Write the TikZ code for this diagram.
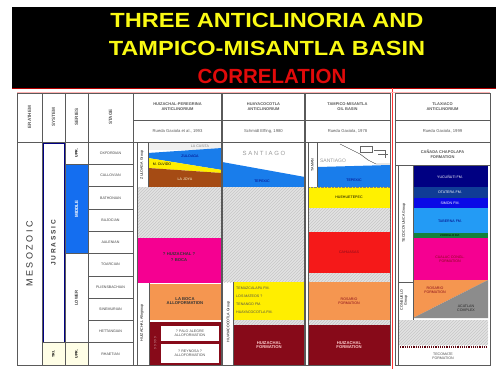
\documentclass[tikz,border=0pt]{standalone}
\usepackage{fontspec}
\setmainfont{Liberation Sans}
\usetikzlibrary{patterns}
\definecolor{lyrblue}{RGB}{25,125,235}
\definecolor{lyryel}{RGB}{255,238,0}
\definecolor{lyrbrown}{RGB}{165,75,20}
\definecolor{lyrmag}{RGB}{245,0,145}
\definecolor{lyrorange}{RGB}{245,150,80}
\definecolor{lyrred}{RGB}{245,25,25}
\definecolor{lyrdark}{RGB}{135,10,25}
\definecolor{navyone}{RGB}{0,0,130}
\definecolor{otat}{RGB}{15,60,150}
\definecolor{simon}{RGB}{10,10,230}
\definecolor{tabern}{RGB}{35,155,245}
\definecolor{zorr}{RGB}{20,130,60}
\definecolor{serblue}{RGB}{20,110,240}
\definecolor{ttlyel}{RGB}{250,250,20}
\definecolor{ttlred}{RGB}{225,10,10}
\definecolor{grid}{RGB}{90,90,90}
\definecolor{trigrey}{RGB}{140,140,140}
\begin{document}
\begin{tikzpicture}[x=1pt,y=-1pt,
  ttl/.style={font=\fontsize{20.5}{22}\selectfont\bfseries, inner sep=0},
  tiny/.style={font=\fontsize{3.6}{4.2}\selectfont, align=center, inner sep=0},
  small/.style={font=\fontsize{4.2}{4.8}\selectfont\bfseries, align=center, inner sep=0},
  hdr/.style={font=\fontsize{4.6}{5.2}\selectfont\bfseries, rotate=90, inner sep=0, text=grid},
  vlab/.style={font=\fontsize{3.6}{4}\selectfont, rotate=90, inner sep=0, align=center},
  hatch/.style={fill=gray!22, postaction={pattern=north east lines, pattern color=gray!45}},
  gridline/.style={draw=grid, line width=0.6pt},
  thick grid/.style={draw=grid, line width=1.1pt}]
\useasboundingbox (0,0) rectangle (496,369);
\fill[white] (0,0) rectangle (496,369);
% title band
\fill[black] (12,7) rectangle (496,88);
\node[ttl, text=ttlyel] (t1) at (267,20) {\scalebox{1.15}[1]{THREE ANTICLINORIA AND}};
\node[ttl, text=ttlyel] (t2) at (267,48) {\scalebox{1.15}[1]{TAMPICO-MISANTLA BASIN}};
\node[ttl, text=ttlred] (t3) at (272,76) {CORRELATION};
\draw[red!70!black, line width=1pt] (12,89) -- (496,89);
% table frame
\draw[gridline] (17,93) rectangle (390,365);
\draw[gridline] (395,93) rectangle (490,365);
% ---------- locality fills ----------
% Huizachal-Peregrina
\fill[gray!12] (148,143) rectangle (222,150);
\node[tiny, text=gray] (hpc) at (200,146.5) {LA CASITA};
\fill[lyrblue] (148,153) -- (222,148) -- (222,170) -- (148,158) -- cycle;
\fill[lyryel] (148,158) -- (222,170) -- (222,173) -- (148,168) -- cycle;
\fill[lyrbrown] (148,168) -- (222,173) -- (222,187) -- (148,187) -- cycle;
\node[tiny, text=navyone] (hpz) at (190,156) {ZULOAGA};
\node[tiny, text=black] (hpo) at (162,164) {M. OLVIDO};
\node[tiny, text=white!85!yellow] (hpj) at (185,179) {LA JOYA};
\node[vlab] (hpg1) at (142,165) {ZULOAGA Group};
\path[hatch] (137,187) rectangle (222,238);
\fill[lyrmag] (137,238) rectangle (221,283);
\node[small, text=black!80] (hpm) at (179,257) {? HUIZACHAL ?\\[2pt]? BOCA};
\fill[lyrorange] (149,284) rectangle (221,320);
\node[small, text=black!80] (hpl) at (185,301) {LA BOCA\\ALLOFORMATION};
\node[vlab] (hpg2) at (142,323) {HUIZACHAL Allogroup};
\fill[lyrdark] (150,322) rectangle (221,365);
\fill[white] (161,326) rectangle (219,341);
\fill[white] (161,344) rectangle (219,363);
\node[tiny, text=black!70] (hpa) at (190,333.5) {? PALO ALEGRE\\ALLOFORMATION};
\node[tiny, text=black!70] (hpb) at (190,353.5) {? REYNOSA ?\\ALLOFORMATION};
\node[vlab, text=white, font=\fontsize{3}{3.4}\selectfont] (hps) at (155.5,343) {? ? ? ? ?};
% Huayacocotla
\node[font=\fontsize{6}{7}\selectfont, text=gray!80, inner sep=0] (hus) at (264,153) {S A N T I A G O};
\fill[lyrblue] (222,162) -- (305,177) -- (305,187) -- (222,187) -- cycle;
\node[tiny, text=navyone] (hut) at (262,181) {TEPEXIC};
\path[hatch] (222,187) rectangle (305,282);
\node[vlab] (hug) at (228.5,322) {HUAYACOCOTLA Group};
\fill[lyryel] (233,282) rectangle (305,320);
\foreach \yy/\tt in {288/TEMAZCALAPA FM., 296/LOS MATEOS ?, 304/TENANGO FM., 312/HUAYACOCOTLA FM.}
  \node[tiny, text=black!70, anchor=west] at (236,\yy) {\tt};
\path[hatch] (233,320) rectangle (305,325);
\fill[lyrdark] (233,325) rectangle (305,365);
\node[small, text=white!80!red] (huh) at (269,345) {HUIZACHAL\\FORMATION};
% Tampico-Misantla
\node[vlab] (tmg) at (312.5,165) {TAMAN};
\node[font=\fontsize{5}{6}\selectfont, text=gray!80, inner sep=0] (tms) at (333,161) {SANTIAGO};
\draw[black!80, line width=0.4pt] (340,144) -- (350,149) -- (360,154) -- (368,160) -- (376,164) -- (390,164);
\draw[black!60, line width=0.3pt] (360,146) rectangle (372,152) (374,150) -- (385,150) -- (385,158) (378,154) -- (388,154);
\fill[lyrblue] (318,167) -- (390,165) -- (390,187) -- (318,187) -- cycle;
\node[tiny, text=navyone] (tmt) at (354,180) {TEPEXIC};
\fill[lyryel!80!yellow] (308,187) rectangle (390,208);
\draw[black!50, densely dotted, line width=0.4pt] (308,187) -- (390,187) (308,208) -- (390,208);
\node[tiny, text=black] (tmh) at (349,197.5) {HUEHUETEPEC};
\path[hatch] (308,208) rectangle (390,232);
\fill[lyrred] (308,232) rectangle (390,273);
\node[tiny, text=lyrdark] (tmc) at (349,252) {CAHUASAS};
\path[hatch] (308,273) rectangle (390,282);
\fill[lyrorange] (308,282) rectangle (390,320);
\node[tiny, text=lyrdark] (tmr) at (349,301) {ROSARIO\\FORMATION};
\path[hatch] (308,320) rectangle (390,325);
\fill[lyrdark] (308,325) rectangle (390,365);
\node[small, text=white!80!red] (tmz) at (349,345) {HUIZACHAL\\FORMATION};
% Tlaxiaco
\fill[navyone] (413,165) rectangle (488,187);
\fill[otat] (413,187) rectangle (488,198);
\fill[simon] (413,198) rectangle (488,208);
\fill[tabern] (413,208) rectangle (488,233);
\fill[zorr] (413,233) rectangle (488,238);
\fill[lyrmag] (413,238) rectangle (488,280);
\fill[lyrorange] (413,280) -- (488,280) -- (413,318) -- cycle;
\fill[trigrey] (488,280) -- (488,318) -- (413,318) -- cycle;
\node[tiny, text=white] (tly) at (450,177) {YUCUÑUTI FM.};
\node[tiny, text=white] (tlo) at (450,192.5) {OTATERA FM.};
\node[tiny, text=white] (tls) at (450,203) {SIMON FM.};
\node[tiny, text=navyone] (tlt) at (450,221) {TABERNA FM.};
\node[tiny, text=black, font=\fontsize{2.8}{3}\selectfont] (tlz) at (450,235.5) {ZORRILLO FM.};
\node[tiny, text=lyrdark] (tlm) at (450,259) {CUALAC CONGL.\\FORMATION};
\node[tiny, text=lyrdark] (tlr) at (435,290) {ROSARIO\\FORMATION};
\node[tiny, text=black!85] (tlg) at (466,308) {ACATLAN\\COMPLEX};
\node[vlab] (tlg1) at (404,223) {TECOCOYUNCA Group};
\node[vlab] (tlg2) at (404,300) {CONSUELO\\Group};
\draw[grid, line width=0.4pt] (413,165) -- (413,320) (398,282) -- (413,282);
\path[hatch] (398,320) rectangle (488,345);
\draw[lyrdark!70!black, densely dotted, line width=1.2pt] (398,347) -- (488,347);
\node[tiny, text=black!70] (tlb) at (443,356) {TECOMATE\\FORMATION};
% ---------- left columns ----------
\fill[serblue] (65,164.3) rectangle (88,253.5);
\fill[yellow!10] (42,342.7) rectangle (88,365);
\draw[navyone, line width=0.7pt] (43,143) rectangle (64,342.7);
\foreach \yy in {164.3,186.6,208.9,231.2,253.5,275.8,298.1,320.4,342.7}
  \draw[gridline] (88,\yy) -- (133,\yy);
\draw[gridline] (65,164.3) -- (88,164.3) (65,253.5) -- (88,253.5) (42,342.7) -- (88,342.7);
\foreach \yy/\tt in {153.2/OXFORDIAN,175.5/CALLOVIAN,197.8/BATHONIAN,220.1/BAJOCIAN,242.4/AALENIAN,264.7/TOARCIAN,287/PLIENSBACHIAN,309.3/SINEMURIAN,331.6/HETTANGIAN,353.9/RHAETIAN}
  \node[tiny, text=black!75] at (110.5,\yy) {\tt};
\node[vlab, font=\fontsize{3.6}{4}\selectfont\bfseries] (su1) at (76.5,153.2) {UPR.};
\node[vlab, font=\fontsize{4.5}{5}\selectfont\bfseries, text=white] (su2) at (76.5,209) {MIDDLE};
\node[vlab, font=\fontsize{4.2}{5}\selectfont\bfseries, text=black!75] (su3) at (76.5,298) {LOWER};
\node[vlab, font=\fontsize{3.6}{4}\selectfont\bfseries] (su4) at (76.5,353.9) {UPR.};
\node[vlab, font=\fontsize{6.5}{7}\selectfont\bfseries, text=black!75] (sy1) at (53.5,243) {J U R A S S I C};
\node[vlab, font=\fontsize{3.6}{4}\selectfont\bfseries] (sy2) at (53.5,353.9) {TRI.};
\node[vlab, font=\fontsize{9}{10}\selectfont, text=black!80] (er) at (29.5,254) {M E S O Z O I C};
% ---------- grid ----------
\foreach \xx in {42,65,88,133} \draw[gridline] (\xx,93) -- (\xx,365);
\draw[thick grid] (222,93) -- (222,365) (305,93) -- (305,365);
\draw[gridline] (133,120) -- (390,120) (395,120) -- (490,120) (395,165) -- (490,165);
\draw[thick grid] (17,142.5) -- (390,142.5) (395,142.5) -- (490,142.5);
\draw[gridline] (137,143) -- (137,365) (148,143) -- (148,187) (149,283) -- (149,365)
  (233,282) -- (233,365) (308,143) -- (308,365) (317,143) -- (317,187) (398,165) -- (398,365);
% headers
\node[hdr] (h1) at (29.5,117) {ERATHEM};
\node[hdr] (h2) at (53.5,117) {SYSTEM};
\node[hdr] (h3) at (76.5,117) {SERIES};
\node[hdr] (h4) at (110.5,117) {STAGE};
\node[tiny, font=\fontsize{4}{4.6}\selectfont\bfseries, text=grid] (c1) at (177.5,106.5) {HUIZACHAL-PEREGRINA\\ANTICLINORIUM};
\node[tiny, font=\fontsize{4}{4.6}\selectfont\bfseries, text=grid] (c2) at (263.5,106.5) {HUAYACOCOTLA\\ANTICLINORIUM};
\node[tiny, font=\fontsize{4}{4.6}\selectfont\bfseries, text=grid] (c3) at (347.5,106.5) {TAMPICO-MISANTLA\\OIL BASIN};
\node[tiny, font=\fontsize{4}{4.6}\selectfont\bfseries, text=grid] (c4) at (442.5,106.5) {TLAXIACO\\ANTICLINORIUM};
\node[tiny, font=\fontsize{4.2}{5}\selectfont, text=grid] (r1) at (177.5,131) {Rueda Gaxiola et al., 1993};
\node[tiny, font=\fontsize{4.2}{5}\selectfont, text=grid] (r2) at (263.5,131) {Schmidt Effing, 1980};
\node[tiny, font=\fontsize{4.2}{5}\selectfont, text=grid] (r3) at (347.5,131) {Rueda Gaxiola, 1978};
\node[tiny, font=\fontsize{4.2}{5}\selectfont, text=grid] (r4) at (442.5,131) {Rueda Gaxiola, 1999};
\node[tiny, font=\fontsize{4}{4.6}\selectfont\bfseries, text=grid] (r5) at (442.5,154) {CAÑADA CHAPOLAPA\\FORMATION};
% red line
\draw[red!80, line width=0.8pt] (392.5,88) -- (392.5,369);
\draw[red!30, line width=0.6pt] (17,92) -- (490,92);
\end{tikzpicture}
\end{document}
